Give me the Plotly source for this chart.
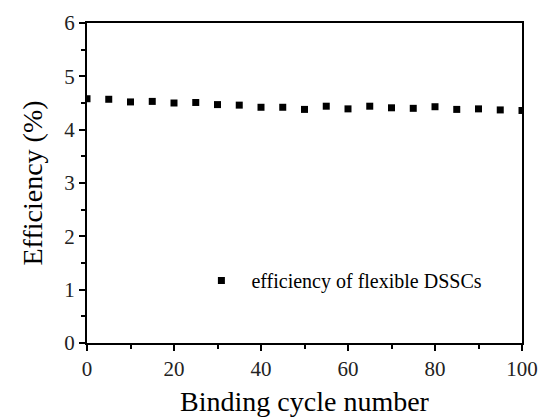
import plotly.graph_objects as go

cycles = [0, 5, 10, 15, 20, 25, 30, 35, 40, 45, 50, 55, 60, 65, 70, 75, 80, 85, 90, 95, 100]
efficiency = [4.58, 4.57, 4.52, 4.53, 4.50, 4.51, 4.47, 4.46, 4.42, 4.42, 4.38, 4.44,
              4.39, 4.44, 4.41, 4.40, 4.43, 4.38, 4.39, 4.37, 4.36]
series_name = "efficiency of flexible DSSCs"
x_title = "Binding cycle number"
y_title = "Efficiency (%)"

FONT = "Liberation Serif, Times New Roman, serif"

fig = go.Figure()
fig.add_trace(go.Scatter(
    x=cycles, y=efficiency, mode="markers", name=series_name,
    marker=dict(symbol="square", size=7, color="black"),
))

axis_common = dict(
    showline=True, linecolor="black", linewidth=2, mirror=True,
    ticks="outside", ticklen=6, tickwidth=2, tickcolor="black",
    showgrid=False, zeroline=False,
    tickfont=dict(family=FONT, size=21, color="#222222"),
)

fig.update_xaxes(
    range=[0, 100], tickvals=[0, 20, 40, 60, 80, 100],
    minor=dict(ticks="outside", ticklen=4, tickwidth=2, tickcolor="black",
               tickvals=[10, 30, 50, 70, 90], showgrid=False),
    title=dict(text=x_title, font=dict(family=FONT, size=28, color="black"), standoff=16),
    **axis_common,
)
fig.update_yaxes(
    range=[0, 6], tickvals=[0, 1, 2, 3, 4, 5, 6],
    minor=dict(ticks="outside", ticklen=4, tickwidth=2, tickcolor="black",
               tickvals=[0.5, 1.5, 2.5, 3.5, 4.5, 5.5], showgrid=False),
    title=dict(text=y_title, font=dict(family=FONT, size=28, color="black"), standoff=13),
    **axis_common,
)

fig.update_layout(
    width=541, height=417,
    margin=dict(l=87, r=19, t=23, b=74, autoexpand=False),
    paper_bgcolor="white", plot_bgcolor="white",
    showlegend=True,
    legend=dict(
        x=0.24, y=0.195, xanchor="left", yanchor="middle",
        bgcolor="rgba(0,0,0,0)", borderwidth=0,
        itemwidth=50,
        font=dict(family=FONT, size=20, color="black"),
    ),
)

fig.write_html("out.html")
